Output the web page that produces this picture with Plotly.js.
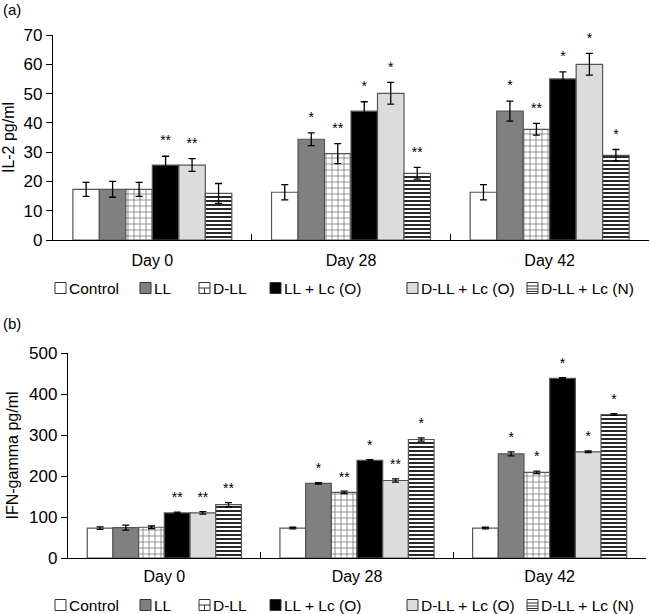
<!DOCTYPE html>
<html><head><meta charset="utf-8">
<script src="https://cdn.plot.ly/plotly-3.0.1.min.js"></script>
<style>body{margin:0;padding:0;background:#fff}#a,#b{width:650px;height:307px}</style>
</head><body>
<div id="a"></div><div id="b"></div>
<script>
const days = ['Day 0', 'Day 28', 'Day 42'];
const groups = ['Control', 'LL', 'D-LL', 'LL + Lc (O)', 'D-LL + Lc (O)', 'D-LL + Lc (N)'];

// IL-2 pg/ml, per group: [Day 0, Day 28, Day 42]
const il2 = [
  [17.3, 16.3, 16.3],
  [17.3, 34.4, 44.0],
  [17.3, 29.5, 37.8],
  [25.6, 44.0, 55.0],
  [25.6, 50.1, 60.0],
  [15.9, 22.8, 28.9]
];
const il2Err = [
  [2.4, 2.6, 2.6],
  [2.7, 2.2, 3.4],
  [2.4, 3.4, 2.0],
  [3.0, 3.2, 2.4],
  [2.2, 3.7, 3.7],
  [3.4, 2.0, 2.0]
];
const il2Sig = [
  ['', '', ''],
  ['', '*', '*'],
  ['', '**', '**'],
  ['**', '*', '*'],
  ['**', '*', '*'],
  ['', '**', '*']
];

// IFN-gamma pg/ml
const ifn = [
  [73, 73, 73],
  [74, 182, 254],
  [75, 160, 209],
  [110, 238, 438],
  [110, 189, 259],
  [130, 289, 350]
];
const ifnErr = [
  [3, 2, 2],
  [6, 2, 5],
  [3, 3, 3],
  [2, 2, 2],
  [3, 4, 2],
  [5, 4, 2]
];
const ifnSig = [
  ['', '', ''],
  ['', '*', '*'],
  ['', '**', '*'],
  ['**', '*', '*'],
  ['**', '**', '*'],
  ['**', '*', '*']
];

const styles = [
  {color: '#ffffff', pattern: {shape: ''}},
  {color: '#808080', pattern: {shape: ''}},
  {color: '#ffffff', pattern: {shape: '+', fgcolor: '#666666', bgcolor: '#ffffff', size: 6, solidity: 0.22}},
  {color: '#000000', pattern: {shape: ''}},
  {color: '#dcdcdc', pattern: {shape: ''}},
  {color: '#ffffff', pattern: {shape: '-', fgcolor: '#000000', bgcolor: '#ffffff', size: 4, solidity: 0.42}}
];
const legendFill = ['#ffffff', '#808080', '#ffffff', '#000000', '#dcdcdc', '#ffffff'];
const legendInner = ['', '', 'brick', '', '', 'lines'];
// legend symbol left edges in page pixels
const legendSymX = [55, 140, 199, 270, 407, 527];

const FONT = 'Liberation Sans, Arial, sans-serif';

function build(vals, errs, sigs, pad) {
  const traces = [];
  groups.forEach((g, i) => {
    traces.push({
      type: 'bar', name: g, x: days, y: vals[i], showlegend: false,
      offsetgroup: String(i),
      marker: {color: styles[i].color, pattern: styles[i].pattern, line: {color: '#555555', width: 1.2}},
      error_y: {type: 'data', array: errs[i], visible: true, color: '#000000', thickness: 1.3, width: 3.5},
      hoverinfo: 'skip'
    });
  });
  groups.forEach((g, i) => {
    traces.push({
      type: 'scatter', mode: 'text', x: days,
      y: vals[i].map((v, k) => v + errs[i][k] + pad),
      text: sigs[i], textposition: 'top center',
      textfont: {family: FONT, size: 14, color: '#000'},
      offsetgroup: String(i), showlegend: false, cliponaxis: false, hoverinfo: 'skip'
    });
  });
  return traces;
}

function layout(o) {
  const W = 650, H = 307;
  const pw = W - o.margin.l - o.margin.r, ph = H - o.margin.t - o.margin.b;
  const px = x => (x - o.margin.l) / pw;            // page-pixel x -> paper
  const py = y => (H - o.margin.b - y) / ph;        // div-pixel y -> paper
  const shapes = [], annotations = [];
  const s = 11, cy = o.legendY;
  groups.forEach((g, i) => {
    const x0 = legendSymX[i], x1 = x0 + s, y0 = cy - s / 2, y1 = cy + s / 2;
    shapes.push({type: 'rect', xref: 'paper', yref: 'paper', x0: px(x0), x1: px(x1), y0: py(y1), y1: py(y0),
                 fillcolor: legendFill[i], line: {color: '#333', width: 1}});
    if (legendInner[i] === 'brick') {
      shapes.push({type: 'line', xref: 'paper', yref: 'paper', x0: px(x0), x1: px(x1), y0: py(cy), y1: py(cy), line: {color: '#333', width: 1}});
      shapes.push({type: 'line', xref: 'paper', yref: 'paper', x0: px(x0 + s / 2), x1: px(x0 + s / 2), y0: py(cy), y1: py(y1), line: {color: '#333', width: 1}});
    } else if (legendInner[i] === 'lines') {
      [-2, 1, 3.5].forEach(d => shapes.push({type: 'line', xref: 'paper', yref: 'paper', x0: px(x0), x1: px(x1), y0: py(cy + d), y1: py(cy + d), line: {color: '#333', width: 1}}));
    }
    annotations.push({xref: 'paper', yref: 'paper', x: px(x1 + 1), y: py(cy), xanchor: 'left', yanchor: 'middle',
                      text: g, showarrow: false, font: {family: FONT, size: 15.5, color: '#000'}});
  });
  annotations.push({xref: 'paper', yref: 'paper', x: px(1), y: py(o.labY), xanchor: 'left', yanchor: 'middle',
                    text: o.label, showarrow: false, font: {family: FONT, size: 15, color: '#000'}});
  return {
    width: W, height: H,
    margin: o.margin,
    paper_bgcolor: '#fff', plot_bgcolor: '#fff',
    barmode: 'group', bargap: 0.2, bargroupgap: 0,
    scattermode: 'group', scattergap: 0.2,
    font: {family: FONT, size: 16, color: '#000'},
    showlegend: false,
    xaxis: {type: 'category', showline: true, linecolor: '#000', linewidth: 1.2,
            ticks: 'inside', tickson: 'boundaries', ticklen: 6, tickcolor: '#000',
            ticklabelstandoff: o.standoff, showgrid: false, zeroline: false,
            tickfont: {family: FONT, size: 16}},
    yaxis: {range: o.range, dtick: o.dtick, showline: true, linecolor: '#000', linewidth: 1.2,
            ticks: 'outside', ticklen: 6, tickcolor: '#000', showgrid: false, zeroline: false,
            tickfont: {family: FONT, size: 17},
            title: {text: o.ytitle, font: {family: FONT, size: 16}, standoff: 6}},
    shapes: shapes,
    annotations: annotations
  };
}

Plotly.newPlot('a', build(il2, il2Err, il2Sig, 2.5), layout({
  margin: {l: 53, r: 1, t: 35, b: 67}, legendY: 288, standoff: 6,
  range: [0, 70], dtick: 10, ytitle: 'IL-2 pg/ml', labY: 10, label: '(a)'
}), {displayModeBar: false, staticPlot: true});

Plotly.newPlot('b', build(ifn, ifnErr, ifnSig, 15), layout({
  margin: {l: 68, r: 4, t: 46, b: 56}, legendY: 298, standoff: 4,
  range: [0, 500], dtick: 100, ytitle: 'IFN-gamma pg/ml', labY: 16, label: '(b)'
}), {displayModeBar: false, staticPlot: true});
</script>
</body></html>
